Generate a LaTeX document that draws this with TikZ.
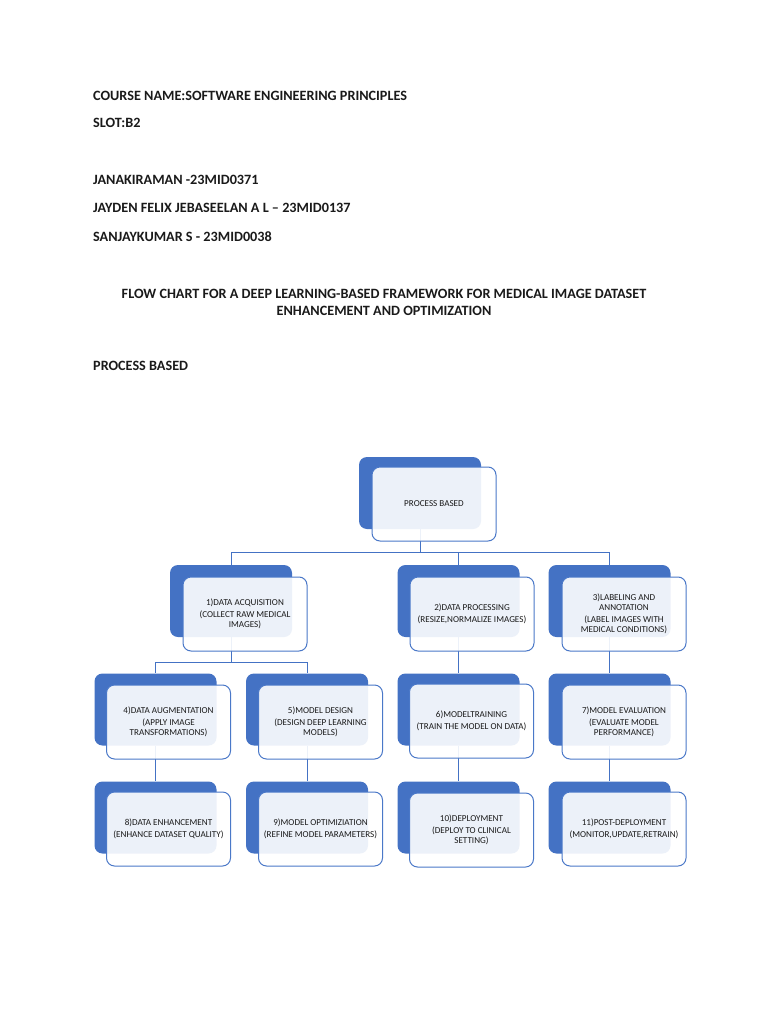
\documentclass[tikz,border=0pt]{standalone}
\usepackage{fontspec}
\setmainfont{Carlito}
\definecolor{blueA}{HTML}{4472C4}
\definecolor{blueB}{HTML}{4A78C8}
\definecolor{txt}{HTML}{1A1A1A}
\tikzset{
  backbox/.style={fill=blueA, rounded corners=8pt, minimum width=122pt, minimum height=72pt, inner sep=0pt},
  frontbox/.style={draw=blueB, line width=1pt, fill=white, fill opacity=0.9, text opacity=1, rounded corners=8pt, minimum width=124pt, minimum height=74pt, inner sep=0pt, align=center, text=txt, font=\fontsize{9.1}{10}\selectfont},
  conn/.style={draw=blueA, line width=1pt},
  head/.style={anchor=west, inner sep=0pt, text=txt, font=\bfseries\fontsize{14.2}{17}\selectfont}
}
\begin{document}
\begin{tikzpicture}[x=1pt,y=-1pt]
\useasboundingbox (0,0) rectangle (768,1024);
\fill[white] (0,0) rectangle (768,1024);
% header
\node[head] (h1) at (93,96) {COURSE NAME:SOFTWARE ENGINEERING PRINCIPLES};
\node[head] (h2) at (93,123) {SLOT:B2};
\node[head] (h3) at (93,180) {JANAKIRAMAN -23MID0371};
\node[head] (h4) at (93,208) {JAYDEN FELIX JEBASEELAN A L -- 23MID0137};
\node[head] (h5) at (93,237) {SANJAYKUMAR S - 23MID0038};
\node[head, anchor=center, align=center, font=\bfseries\fontsize{14.2}{17}\selectfont] (t) at (384,302.5) {FLOW CHART FOR A DEEP LEARNING-BASED FRAMEWORK FOR MEDICAL IMAGE DATASET\\ENHANCEMENT AND OPTIMIZATION};
\node[head] (h6) at (93,366) {PROCESS BASED};
% back boxes
\node[backbox] (pbb) at (420,493) {};
\node[backbox] (b1b) at (231,601) {};
\node[backbox] (b2b) at (458.5,601) {};
\node[backbox] (b3b) at (609.5,601) {};
\node[backbox] (b4b) at (155.5,709.5) {};
\node[backbox] (b5b) at (307,709.5) {};
\node[backbox] (b6b) at (458.5,709.5) {};
\node[backbox] (b7b) at (609.5,709.5) {};
\node[backbox] (b8b) at (155.5,817.5) {};
\node[backbox] (b9b) at (307,817.5) {};
\node[backbox] (b10b) at (458.5,817.5) {};
\node[backbox] (b11b) at (609.5,817.5) {};
% connectors
\coordinate (j0) at (420,552);
\coordinate (j1) at (231,662);
\draw[conn] (pbb.south) -- (j0);
\draw[conn] (j0) -| (b1b.north);
\draw[conn] (j0) -| (b2b.north);
\draw[conn] (j0) -| (b3b.north);
\draw[conn] (b1b.south) -- (j1);
\draw[conn] (j1) -| (b4b.north);
\draw[conn] (j1) -| (b5b.north);
\draw[conn] (b2b.south) -- (b6b.north);
\draw[conn] (b3b.south) -- (b7b.north);
\draw[conn] (b4b.south) -- (b8b.north);
\draw[conn] (b5b.south) -- (b9b.north);
\draw[conn] (b6b.south) -- (b10b.north);
\draw[conn] (b7b.south) -- (b11b.north);
% front boxes
\node[frontbox] (pb) at (434,504) {PROCESS BASED};
\node[frontbox] (b1) at (245,614) {1)DATA ACQUISITION\\[1.5pt](COLLECT RAW MEDICAL\\IMAGES)};
\node[frontbox] (b2) at (472,614) {2)DATA PROCESSING\\[1.5pt](RESIZE,NORMALIZE IMAGES)};
\node[frontbox] (b3) at (624,614) {3)LABELING AND\\ANNOTATION\\[1.5pt](LABEL IMAGES WITH\\MEDICAL CONDITIONS)};
\node[frontbox] (b4) at (168.5,722) {4)DATA AUGMENTATION\\[1.5pt](APPLY IMAGE\\TRANSFORMATIONS)};
\node[frontbox] (b5) at (320.5,722) {5)MODEL DESIGN\\[1.5pt](DESIGN DEEP LEARNING\\MODELS)};
\node[frontbox] (b6) at (471.5,721) {6)MODELTRAINING\\[1.5pt](TRAIN THE MODEL ON DATA)};
\node[frontbox] (b7) at (624,722) {7)MODEL EVALUATION\\[1.5pt](EVALUATE MODEL\\PERFORMANCE)};
\node[frontbox] (b8) at (168.5,829) {8)DATA ENHANCEMENT\\[1.5pt](ENHANCE DATASET QUALITY)};
\node[frontbox] (b9) at (320.5,829) {9)MODEL OPTIMIZIATION\\[1.5pt](REFINE MODEL PARAMETERS)};
\node[frontbox] (b10) at (471.5,830) {10)DEPLOYMENT\\[1.5pt](DEPLOY TO CLINICAL\\SETTING)};
\node[frontbox] (b11) at (624,829) {11)POST-DEPLOYMENT\\[1.5pt](MONITOR,UPDATE,RETRAIN)};
\end{tikzpicture}
\end{document}
